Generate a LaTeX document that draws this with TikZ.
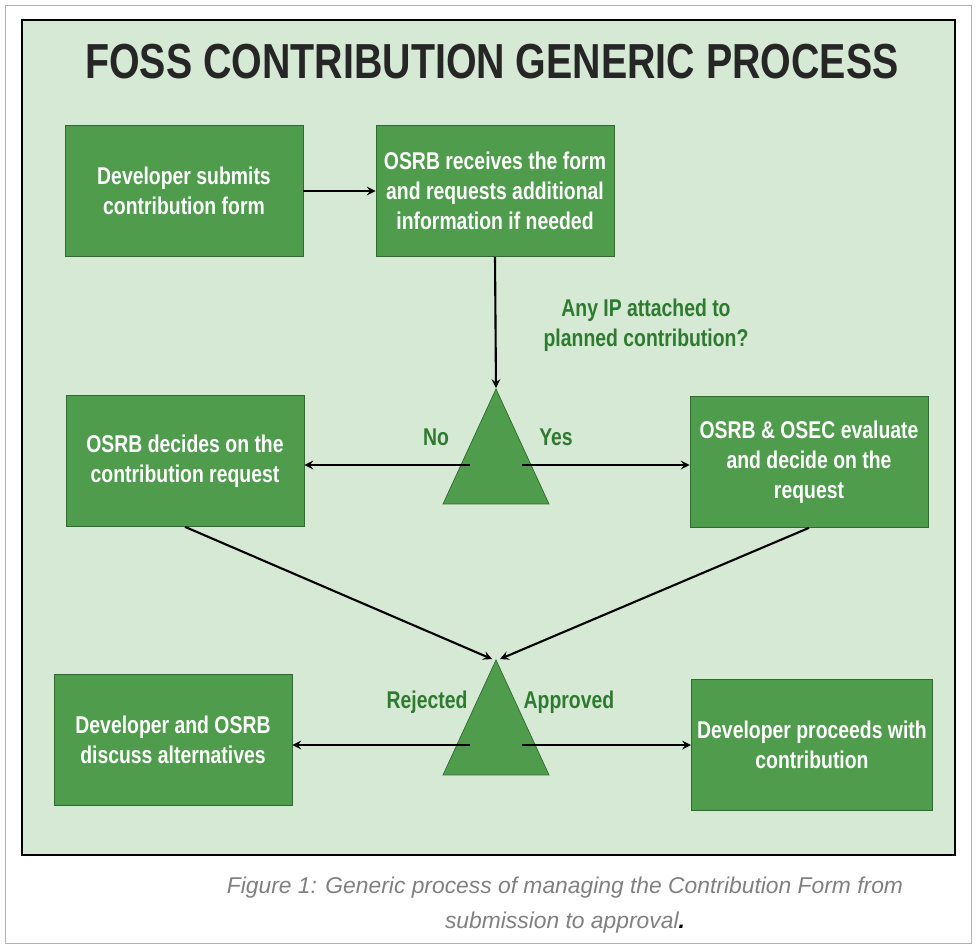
\documentclass[tikz,border=0pt]{standalone}
\usepackage{fontspec}
\setmainfont{Liberation Sans}
\newfontfamily\condfont{Liberation Sans}[FakeStretch=0.8]
\usetikzlibrary{shapes.geometric,positioning}
\definecolor{panelgreen}{HTML}{D6E9D5}
\definecolor{boxgreen}{HTML}{4E9C4C}
\definecolor{boxborder}{HTML}{2F6B2E}
\definecolor{labelgreen}{HTML}{2E7A30}

\begin{document}
\begin{tikzpicture}[x=0.02cm,y=-0.02cm,->,>=stealth,line width=1.2pt,
		step box/.style={rectangle,draw=boxborder,fill=boxgreen,text=white,thin,
			minimum width=4.76cm,minimum height=2.62cm,align=center,
			font=\condfont\bfseries\fontsize{13.8}{17}\selectfont},
		decision/.style={isosceles triangle,shape border rotate=90,draw=boxborder,thin,
			fill=boxgreen,minimum width=2.12cm,minimum height=2.3cm,
			isosceles triangle stretches,inner sep=0pt},
		side label/.style={text=labelgreen,font=\condfont\bfseries\fontsize{13.8}{17}\selectfont,align=center}]
		% frame and panel
		\useasboundingbox (0,0) rectangle (977,948);
		\draw[-,gray!60,thin] (5,5) rectangle (971,943);
		\draw[-,fill=panelgreen,draw=black,thick] (22,20) rectangle (955,855);
		\node[font=\condfont\bfseries\fontsize{28}{32}\selectfont,text=black!85] (title) at (492,62) {FOSS CONTRIBUTION GENERIC PROCESS};
		% steps
		\node[step box] (submit) at (184,191) {Developer submits\\contribution form};
		\node[step box] (receive) at (495,191) {OSRB receives the form\\and requests additional\\information if needed};
		\node[decision] (ipcheck) at (496,470) {};
		\node[step box] (osrb) at (185,461) {OSRB decides on the\\contribution request};
		\node[step box] (osec) at (809,462) {OSRB \& OSEC evaluate\\and decide on the\\request};
		\node[decision] (result) at (496,741) {};
		\node[step box] (discuss) at (173,740) {Developer and OSRB\\discuss alternatives};
		\node[step box] (proceed) at (812,745) {Developer proceeds with\\contribution};
		% labels
		\node[side label] (iplabel) at (646,325) {Any IP attached to\\planned contribution?};
		\node[side label] (nolabel) at (436,437) {No};
		\node[side label] (yeslabel) at (556,437) {Yes};
		\node[side label] (rejlabel) at (427,702) {Rejected};
		\node[side label] (applabel) at (569,702) {Approved};
		% connectors
		\coordinate (nostart) at (470,465);
		\coordinate (yesstart) at (522,465);
		\coordinate (rejstart) at (470,745);
		\coordinate (appstart) at (522,745);
		\draw (submit) -- (receive);
		\draw (receive.south) -- (ipcheck.apex);
		\draw (nostart) -- (osrb.east |- nostart);
		\draw (yesstart) -- (osec.west |- yesstart);
		\draw (osrb.south) -- ([xshift=-0.08cm]result.apex);
		\draw (osec.south) -- ([xshift=0.08cm]result.apex);
		\draw (rejstart) -- (discuss.east |- rejstart);
		\draw (appstart) -- (proceed.west |- appstart);
		% caption
		\node[text=gray,align=center,font=\itshape\fontsize{13}{20}\selectfont] (caption) at (565,905)
			{Figure 1: Generic process of managing the Contribution Form from\\submission to approval\textcolor{black}{\textbf{.}}};
\end{tikzpicture}
\end{document}
